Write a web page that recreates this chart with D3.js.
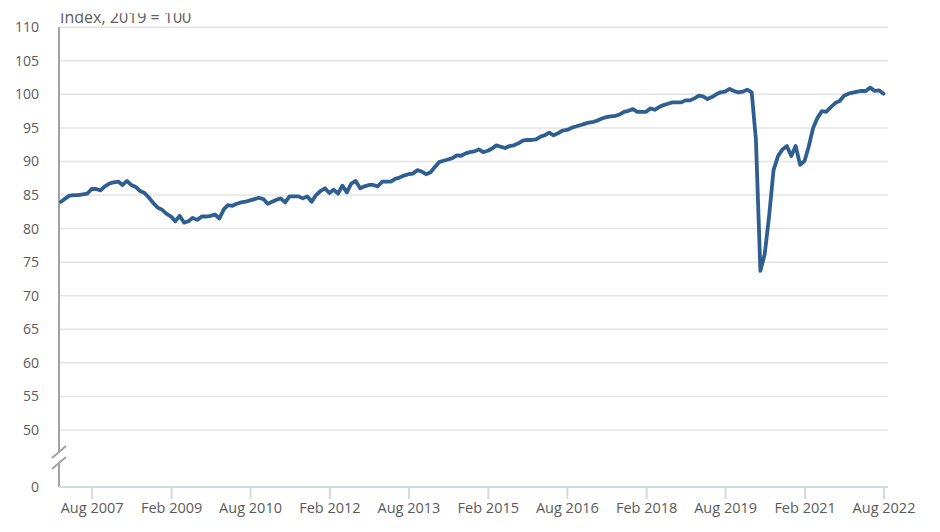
<!DOCTYPE html>
<html>
<head>
<meta charset="utf-8">
<script src="https://cdn.jsdelivr.net/npm/d3@7"></script>
<style>
  html, body { margin: 0; padding: 0; background: #fff; }
  svg text { font-family: "Open Sans", "Noto Sans", sans-serif; }
</style>
</head>
<body>
<svg id="chart" width="940" height="532"></svg>
<script>
// ---- Data (monthly index, 2019 = 100) ----
const startMonth = "2007-01";
const values = [
  84.0, 84.5, 84.9, 85.0, 85.0, 85.1, 85.2, 85.9, 85.9, 85.7, 86.3, 86.7,
  86.9, 87.0, 86.5, 87.1, 86.5, 86.2, 85.6, 85.3, 84.6, 83.8, 83.1, 82.8,
  82.2, 81.8, 81.1, 81.9, 80.9, 81.1, 81.6, 81.3, 81.8, 81.8, 81.9, 82.1,
  81.5, 82.9, 83.5, 83.4, 83.7, 83.9, 84.0, 84.2, 84.4, 84.6, 84.4, 83.7,
  84.0, 84.3, 84.5, 83.9, 84.8, 84.8, 84.8, 84.5, 84.8, 84.0, 85.0, 85.6,
  86.0, 85.3, 85.8, 85.2, 86.4, 85.4, 86.7, 87.1, 86.0, 86.3, 86.5, 86.5,
  86.3, 87.0, 87.0, 87.0, 87.4, 87.6, 87.9, 88.1, 88.2, 88.7, 88.5, 88.1,
  88.4, 89.2, 89.9, 90.1, 90.3, 90.5, 90.9, 90.85, 91.2, 91.4, 91.5, 91.8,
  91.4, 91.6, 91.9, 92.4, 92.2, 92.0, 92.3, 92.4, 92.7, 93.1, 93.2, 93.2,
  93.3, 93.7, 93.9, 94.3, 93.9, 94.2, 94.6, 94.7, 95.0, 95.2, 95.4, 95.6,
  95.8, 95.9, 96.1, 96.4, 96.6, 96.7, 96.8, 97.0, 97.4, 97.55, 97.8, 97.4,
  97.4, 97.4, 97.9, 97.7, 98.1, 98.4, 98.6, 98.8, 98.8, 98.8, 99.1, 99.1,
  99.4, 99.8, 99.7, 99.3, 99.6, 100.0, 100.3, 100.4, 100.8, 100.5, 100.3, 100.4,
  100.7, 100.3, 93.3, 73.7, 76.2, 82.0, 88.7, 90.8, 91.8, 92.3, 90.8, 92.3,
  89.5, 90.1, 92.2, 95.0, 96.5, 97.5, 97.4, 98.1, 98.7, 99.0, 99.8, 100.1,
  100.25, 100.4, 100.5, 100.5, 101.0, 100.5, 100.6, 100.1
];
const xTickLabels = ["Aug 2007", "Feb 2009", "Aug 2010", "Feb 2012", "Aug 2013",
  "Feb 2015", "Aug 2016", "Feb 2018", "Aug 2019", "Feb 2021", "Aug 2022"];
const yTickValues = [0, 50, 55, 60, 65, 70, 75, 80, 85, 90, 95, 100, 105, 110];
const yTitle = "Index, 2019 = 100";

// ---- Build ----
const parseMonth = d3.timeParse("%Y-%m");
const parseLabel = d3.timeParse("%b %Y");
const t0 = parseMonth(startMonth);
const series = values.map((v, i) => ({ date: d3.timeMonth.offset(t0, i), value: v }));
const xTicks = xTickLabels.map(parseLabel);

const svg = d3.select("#chart");
const plotLeft = 59, plotRight = 888;

const x = d3.scaleTime()
  .domain([t0, d3.timeMonth.offset(t0, values.length)])
  .range([61, 888]);

// broken axis: 0 sits below the break, 50..110 linear
const y = d3.scaleLinear()
  .domain([0, 50, 110])
  .range([487, 430, 27.2]);

// gridlines
svg.append("g")
  .selectAll("line")
  .data(yTickValues.filter(v => v >= 50))
  .join("line")
  .attr("x1", plotLeft).attr("x2", plotRight)
  .attr("y1", d => y(d)).attr("y2", d => y(d))
  .attr("stroke", "#e4e4e4")
  .attr("stroke-width", 1.5);

// y axis labels
svg.append("g")
  .selectAll("text")
  .data(yTickValues)
  .join("text")
  .attr("x", 39)
  .attr("y", d => y(d))
  .attr("dy", "0.35em")
  .attr("text-anchor", "end")
  .attr("font-size", 14)
  .attr("fill", "#5b5b5b")
  .text(d => d);

// y axis line with break
const breakTop = 452, breakBottom = 463;
const yAxisG = svg.append("g").attr("stroke", "#a3a3a3").attr("stroke-width", 2).attr("fill", "none");
yAxisG.append("line").attr("x1", plotLeft).attr("x2", plotLeft).attr("y1", y(110)).attr("y2", breakTop);
yAxisG.append("line").attr("x1", plotLeft).attr("x2", plotLeft).attr("y1", breakBottom).attr("y2", y(0));
yAxisG.append("line").attr("x1", 52).attr("y1", breakTop + 6).attr("x2", 66).attr("y2", breakTop - 6);
yAxisG.append("line").attr("x1", 52).attr("y1", breakBottom + 6).attr("x2", 66).attr("y2", breakBottom - 6);

// x axis
const xAxis = d3.axisBottom(x)
  .tickValues(xTicks)
  .tickFormat(d3.timeFormat("%b %Y"))
  .tickSize(12)
  .tickSizeOuter(0)
  .tickPadding(4);
const xg = svg.append("g")
  .attr("transform", `translate(0,${y(0)})`)
  .call(xAxis);
xg.select(".domain").remove();
xg.insert("line", ":first-child")
  .attr("x1", plotLeft).attr("x2", plotRight)
  .attr("y1", 0).attr("y2", 0)
  .attr("stroke", "#d2d9e5").attr("stroke-width", 2);
xg.selectAll(".tick line").attr("stroke", "#d2d9e5").attr("stroke-width", 2);
xg.selectAll(".tick text")
  .attr("font-size", 14.5)
  .attr("font-family", "'Open Sans', 'Noto Sans', sans-serif")
  .attr("fill", "#5b5b5b");

// line
const line = d3.line()
  .x(d => x(d.date))
  .y(d => y(d.value));
svg.append("path")
  .datum(series)
  .attr("d", line)
  .attr("fill", "none")
  .attr("stroke", "#2f5f91")
  .attr("stroke-width", 3.8)
  .attr("stroke-linejoin", "round")
  .attr("stroke-linecap", "round");

// y title (top clipped as in reference)
svg.append("defs").append("clipPath").attr("id", "titleClip")
  .append("rect").attr("x", 0).attr("y", 13.3).attr("width", 940).attr("height", 20);
svg.append("text")
  .attr("clip-path", "url(#titleClip)")
  .attr("x", 60)
  .attr("y", 23)
  .attr("font-size", 16)
  .attr("fill", "#5b5b5b")
  .text(yTitle);
</script>
</body>
</html>
